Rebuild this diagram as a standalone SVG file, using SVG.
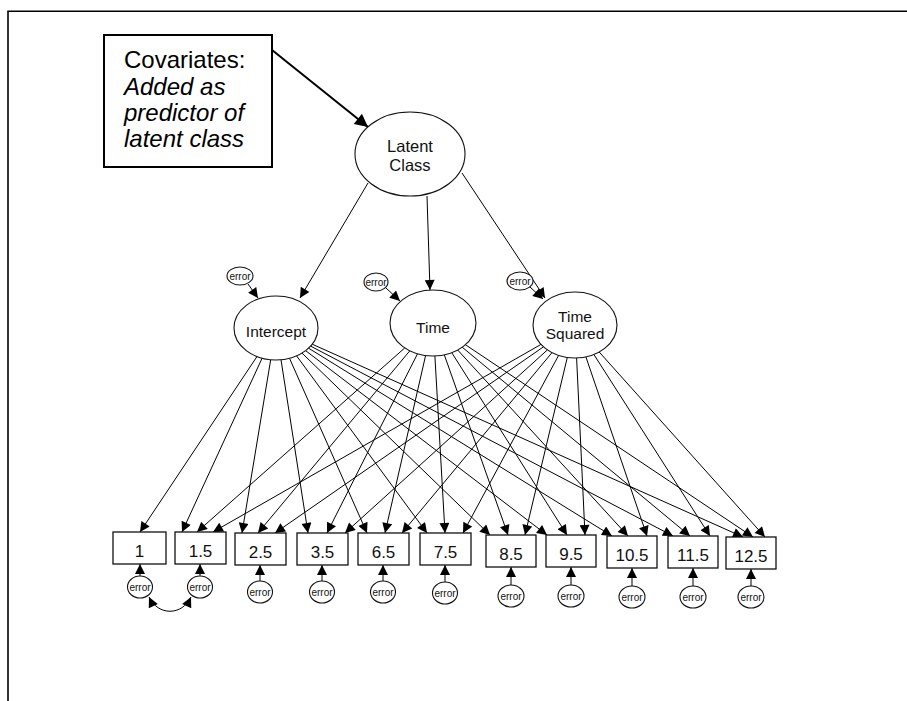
<svg xmlns="http://www.w3.org/2000/svg" width="907" height="701" viewBox="0 0 907 701">
<defs>
<marker id="ah" viewBox="0 0 10 10" refX="10" refY="5" markerWidth="12" markerHeight="10" markerUnits="userSpaceOnUse" orient="auto-start-reverse"><path d="M0,0 L10,5 L0,10 z" fill="#000"/></marker>
<marker id="ahb" viewBox="0 0 10 10" refX="10" refY="5" markerWidth="17" markerHeight="13" markerUnits="userSpaceOnUse" orient="auto"><path d="M0,0 L10,5 L0,10 z" fill="#000"/></marker>
</defs>
<style>
.lbl{font-family:"Liberation Sans",Arial,sans-serif;fill:#111;text-anchor:middle}
.f{font-size:15.5px}
.b{font-size:17px}
.e{font-size:10px}
.ell{fill:#fff;stroke:#111;stroke-width:1.1}
.box{fill:#fff;stroke:#111;stroke-width:1.3}
.c{stroke:#000;stroke-width:1;fill:none;marker-end:url(#ah)}
.cov{font-family:"Liberation Sans",Arial,sans-serif;font-size:24px;fill:#000}
</style>
<rect x="0" y="0" width="907" height="701" fill="#fff"/>
<path d="M8,701 V11.3 H907" fill="none" stroke="#000" stroke-width="1.6"/>

<g id="connectors">
<path class="c" d="M272,50 L368,127" style="stroke-width:2;marker-end:url(#ahb)"/>
<path class="c" d="M368,183 L300,298"/>
<path class="c" d="M427,196 L430,290"/>
<path class="c" d="M462,173 L545,298"/>
<path class="c" d="M248,284 L258,298"/>
<path class="c" d="M386,288 L400,301"/>
<path class="c" d="M530,287 L543,299"/>
<!-- Intercept -->
<path class="c" d="M257.0,356.5 L140,532"/>
<path class="c" d="M262.1,358.2 L182,532"/>
<path class="c" d="M270.7,359.7 L242,533"/>
<path class="c" d="M281.0,359.8 L308,533"/>
<path class="c" d="M289.5,358.3 L367,533"/>
<path class="c" d="M296.6,355.9 L427,533"/>
<path class="c" d="M302.0,353.1 L490,535"/>
<path class="c" d="M305.7,350.7 L547,535"/>
<path class="c" d="M308.6,348.2 L612,536"/>
<path class="c" d="M310.6,346.1 L673,536"/>
<path class="c" d="M312.2,344.2 L743,537"/>
<!-- Time -->
<path class="c" d="M404.8,347.9 L197,532"/>
<path class="c" d="M409.8,350.8 L258,533"/>
<path class="c" d="M417.5,353.8 L327,533"/>
<path class="c" d="M425.6,355.5 L385,533"/>
<path class="c" d="M434.9,356.0 L445,533"/>
<path class="c" d="M444.3,354.8 L508,535"/>
<path class="c" d="M451.8,352.7 L567,535"/>
<path class="c" d="M457.7,350.0 L628,536"/>
<path class="c" d="M462.2,347.2 L690,536"/>
<path class="c" d="M465.4,344.7 L753,537"/>
<!-- Time Squared -->
<path class="c" d="M541.0,344.4 L213,532"/>
<path class="c" d="M543.5,346.8 L275,533"/>
<path class="c" d="M547.4,349.9 L345,533"/>
<path class="c" d="M552.0,352.6 L402,533"/>
<path class="c" d="M558.6,355.4 L463,533"/>
<path class="c" d="M567.3,357.4 L525,535"/>
<path class="c" d="M576.6,358.0 L585,535"/>
<path class="c" d="M585.9,356.9 L647,536"/>
<path class="c" d="M593.9,354.5 L710,536"/>
<path class="c" d="M599.2,352.0 L765,537"/>
<!-- errors to boxes -->
<path class="c" d="M140,576 L140,564"/>
<path class="c" d="M200,576 L200,564"/>
<path class="c" d="M260,581 L260,565"/>
<path class="c" d="M322,581 L322,565"/>
<path class="c" d="M383,581 L383,565"/>
<path class="c" d="M445,582 L445,565"/>
<path class="c" d="M511,585 L511,567"/>
<path class="c" d="M571,585 L571,567"/>
<path class="c" d="M632,586 L632,568"/>
<path class="c" d="M693,586 L693,568"/>
<path class="c" d="M751,586 L751,569"/>
<path class="c" d="M149,597 C158,616 182,616 191,597" style="marker-start:url(#ah)"/>
</g>

<g id="covariates">
<rect x="104" y="35" width="168" height="132" fill="#fff" stroke="#000" stroke-width="2"/>
<text class="cov" x="124" y="68">Covariates:</text>
<text class="cov" x="124" y="95" font-style="italic">Added as</text>
<text class="cov" x="124" y="121" font-style="italic">predictor of</text>
<text class="cov" x="124" y="147" font-style="italic">latent class</text>
</g>

<g id="latent-class">
<ellipse class="ell" cx="410" cy="154" rx="55" ry="42"/>
<text class="lbl" x="410" y="152" font-size="16.5">Latent</text>
<text class="lbl" x="410" y="171" font-size="16.5">Class</text>
</g>

<g id="intercept">
<ellipse class="ell" cx="276" cy="328" rx="42" ry="32"/>
<text class="lbl f" x="276" y="337">Intercept</text>
</g>
<g id="time">
<ellipse class="ell" cx="433" cy="323" rx="43" ry="33"/>
<text class="lbl f" x="433" y="333">Time</text>
</g>
<g id="time-squared">
<ellipse class="ell" cx="575" cy="325" rx="42" ry="33"/>
<text class="lbl f" x="575" y="322">Time</text>
<text class="lbl f" x="575" y="339">Squared</text>
</g>

<g id="err-intercept"><ellipse class="ell" cx="240" cy="276" rx="13" ry="9"/><text class="lbl e" x="240" y="279.5">error</text></g>
<g id="err-time"><ellipse class="ell" cx="376" cy="282" rx="12" ry="9"/><text class="lbl e" x="376" y="285.5">error</text></g>
<g id="err-timesq"><ellipse class="ell" cx="520" cy="281" rx="13" ry="9"/><text class="lbl e" x="520" y="284.5">error</text></g>

<g id="box-1"><rect class="box" x="113" y="532" width="53" height="32"/><text class="lbl b" x="139.5" y="557">1</text></g>
<g id="box-1-5"><rect class="box" x="175" y="532" width="51" height="32"/><text class="lbl b" x="200.5" y="557">1.5</text></g>
<g id="box-2-5"><rect class="box" x="235" y="533" width="51" height="32"/><text class="lbl b" x="260.5" y="558">2.5</text></g>
<g id="box-3-5"><rect class="box" x="297" y="533" width="51" height="32"/><text class="lbl b" x="322.5" y="558">3.5</text></g>
<g id="box-6-5"><rect class="box" x="358" y="533" width="51" height="32"/><text class="lbl b" x="383.5" y="558">6.5</text></g>
<g id="box-7-5"><rect class="box" x="420" y="533" width="51" height="32"/><text class="lbl b" x="445.5" y="558">7.5</text></g>
<g id="box-8-5"><rect class="box" x="486" y="535" width="50" height="32"/><text class="lbl b" x="511" y="560">8.5</text></g>
<g id="box-9-5"><rect class="box" x="546" y="535" width="50" height="32"/><text class="lbl b" x="571" y="560">9.5</text></g>
<g id="box-10-5"><rect class="box" x="607" y="536" width="50" height="32"/><text class="lbl b" x="632" y="561">10.5</text></g>
<g id="box-11-5"><rect class="box" x="668" y="536" width="50" height="32"/><text class="lbl b" x="693" y="561">11.5</text></g>
<g id="box-12-5"><rect class="box" x="726" y="537" width="50" height="32"/><text class="lbl b" x="751" y="562">12.5</text></g>

<g id="err-1"><ellipse class="ell" cx="140" cy="587" rx="12.5" ry="11"/><text class="lbl e" x="140" y="590.5">error</text></g>
<g id="err-1-5"><ellipse class="ell" cx="200" cy="587" rx="12.5" ry="11"/><text class="lbl e" x="200" y="590.5">error</text></g>
<g id="err-2-5"><ellipse class="ell" cx="260" cy="592" rx="12.5" ry="11"/><text class="lbl e" x="260" y="595.5">error</text></g>
<g id="err-3-5"><ellipse class="ell" cx="322" cy="592" rx="12.5" ry="11"/><text class="lbl e" x="322" y="595.5">error</text></g>
<g id="err-6-5"><ellipse class="ell" cx="383" cy="592" rx="12.5" ry="11"/><text class="lbl e" x="383" y="595.5">error</text></g>
<g id="err-7-5"><ellipse class="ell" cx="445" cy="593" rx="12.5" ry="11"/><text class="lbl e" x="445" y="596.5">error</text></g>
<g id="err-8-5"><ellipse class="ell" cx="511" cy="596" rx="13" ry="11"/><text class="lbl e" x="511" y="599.5">error</text></g>
<g id="err-9-5"><ellipse class="ell" cx="571" cy="596" rx="13" ry="11"/><text class="lbl e" x="571" y="599.5">error</text></g>
<g id="err-10-5"><ellipse class="ell" cx="632" cy="597" rx="13" ry="11"/><text class="lbl e" x="632" y="600.5">error</text></g>
<g id="err-11-5"><ellipse class="ell" cx="693" cy="597" rx="13" ry="11"/><text class="lbl e" x="693" y="600.5">error</text></g>
<g id="err-12-5"><ellipse class="ell" cx="751" cy="597" rx="13" ry="11"/><text class="lbl e" x="751" y="600.5">error</text></g>
</svg>
